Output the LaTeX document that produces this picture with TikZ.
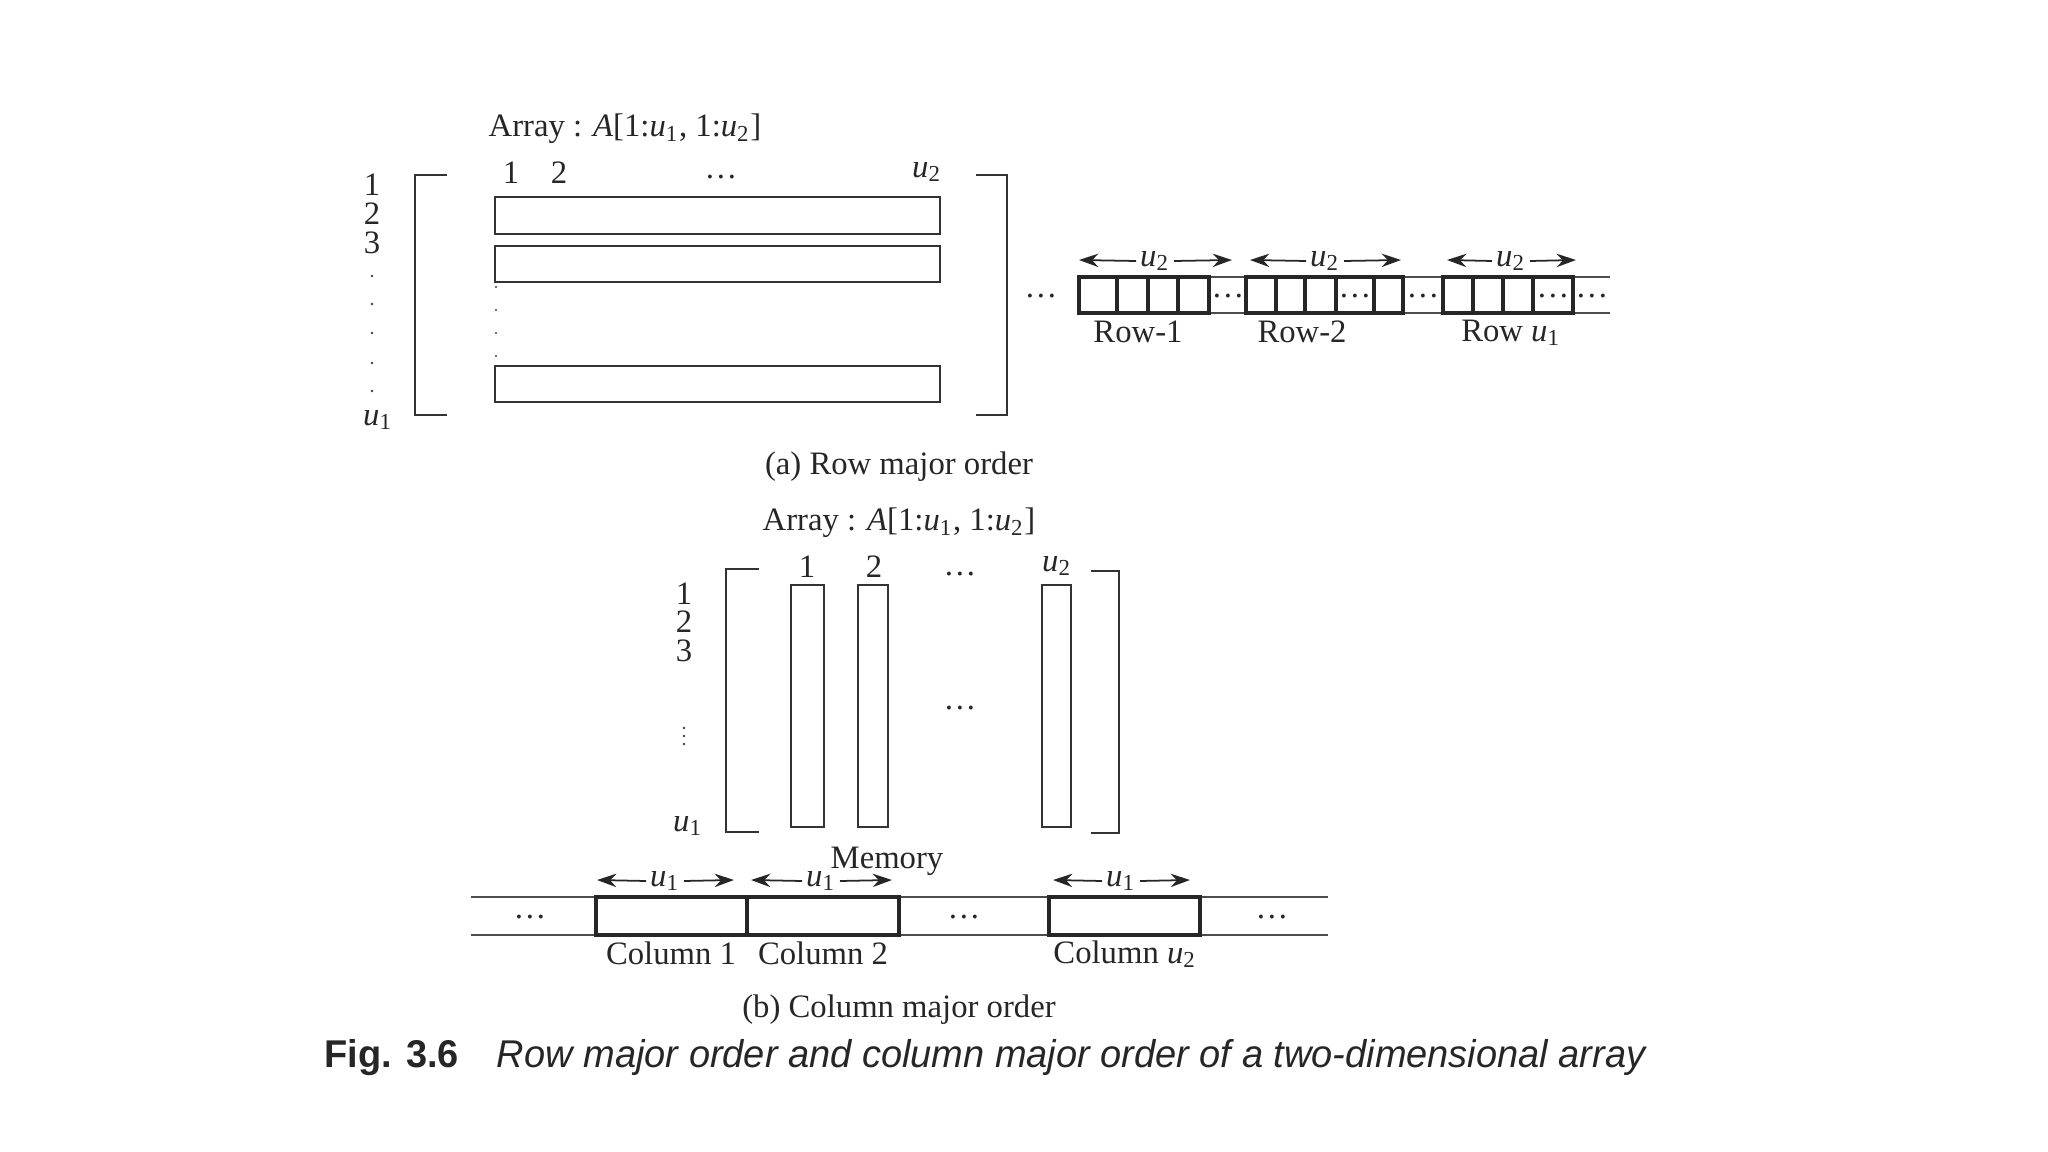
\documentclass[tikz,border=0pt]{standalone}
\usepackage{fontspec}
\setmainfont{Liberation Serif}
\newfontfamily\capfont{Liberation Sans}
\usetikzlibrary{arrows.meta,fit}
\newcommand\ujx[1]{\textit{u}\textsubscript{#1}}
\begin{document}
\begin{tikzpicture}[x=0.01cm,y=-0.01cm,
  every node/.style={text=black!85},
  txt/.style={inner sep=0pt, font=\fontsize{9.3}{11}\selectfont},
  dotsn/.style={inner sep=0pt, anchor=base, font=\fontsize{9.3}{11}\selectfont},
  thinbox/.style={draw=black!80, line width=0.6pt, inner sep=0pt},
  cell/.style={draw=black!85, line width=1.1pt, inner sep=0pt},
  brk/.style={draw=black!80, line width=0.6pt},
  mline/.style={draw=black!70, line width=0.5pt},
  dim/.style={draw=black!85, line width=0.5pt, -{Stealth[length=5.5pt,width=3.8pt]}},
  dimlab/.style={inner sep=1pt, font=\fontsize{9.3}{11}\selectfont}
  ]
\useasboundingbox (0,0) rectangle (2048,1152);

% ---------------- (a) Row major order ----------------
\node[txt] (ta) at (625,129) {Array : \textit{A}[1:\ujx{1}, 1:\ujx{2}]};
% brackets
\draw[brk] (447,175) -- (415,175) -- (415,415) -- (447,415);
\draw[brk] (976,175) -- (1007,175) -- (1007,415) -- (976,415);
% row labels
\node[txt] (ra1) at (372,185) {1};
\node[txt] (ra2) at (372,214) {2};
\node[txt] (ra3) at (372,243) {3};
\foreach \yy in {276,304,333,363,391}{\fill[black!75] (372,\yy) circle (1.3);}
\node[txt] (rau) at (378,420) {\ujx{1}};
% column labels
\node[txt] (ca1) at (511,173) {1};
\node[txt] (ca2) at (559,173) {2};
\node[dotsn] (cad) at (721,179) {\dots};
\node[txt] (cau) at (927,172) {\ujx{2}};
% row boxes
\node[thinbox, fit={(495,197) (940,234)}] (rowA) {};
\node[thinbox, fit={(495,246) (940,282)}] (rowB) {};
\node[thinbox, fit={(495,366) (940,402)}] (rowC) {};
\foreach \yy in {287,310,333,356}{\fill[black!75] (496,\yy) circle (1.2);}

% memory strip (a)
\node[dotsn] (ma0) at (1041,298) {\dots};
\coordinate (mla) at (1079,277); \coordinate (mlb) at (1610,277);
\coordinate (mlc) at (1079,313); \coordinate (mld) at (1610,313);
\draw[mline] (mla) -- (mlb);
\draw[mline] (mlc) -- (mld);
\node[cell, fit={(1079,277) (1117,313)}] (a11) {};
\node[cell, fit={(1117,277) (1148,313)}] (a12) {};
\node[cell, fit={(1148,277) (1178,313)}] (a13) {};
\node[cell, fit={(1178,277) (1209,313)}] (a14) {};
\node[dotsn] (ma1) at (1228,298) {\dots};
\node[cell, fit={(1246,277) (1276,313)}] (a21) {};
\node[cell, fit={(1276,277) (1305,313)}] (a22) {};
\node[cell, fit={(1305,277) (1336,313)}] (a23) {};
\node[cell, fit={(1336,277) (1374,313)}] (a24) {};
\node[cell, fit={(1374,277) (1403,313)}] (a25) {};
\node[dotsn] (ma2) at (1355,298) {\dots};
\node[dotsn] (ma3) at (1423,298) {\dots};
\node[cell, fit={(1443,277) (1473,313)}] (a31) {};
\node[cell, fit={(1473,277) (1503,313)}] (a32) {};
\node[cell, fit={(1503,277) (1533,313)}] (a33) {};
\node[cell, fit={(1533,277) (1573,313)}] (a34) {};
\node[dotsn] (ma4) at (1553,298) {\dots};
\node[dotsn] (ma5) at (1592,298) {\dots};
% dimension arrows
\node[dimlab] (da1) at (1155,261) {\ujx{2}};
\coordinate (da1l) at (1079,260); \coordinate (da1r) at (1232,260);
\draw[dim] (da1.west) -- (da1l); \draw[dim] (da1.east) -- (da1r);
\node[dimlab] (da2) at (1325,261) {\ujx{2}};
\coordinate (da2l) at (1250,260); \coordinate (da2r) at (1401,260);
\draw[dim] (da2.west) -- (da2l); \draw[dim] (da2.east) -- (da2r);
\node[dimlab] (da3) at (1511,261) {\ujx{2}};
\coordinate (da3l) at (1447,260); \coordinate (da3r) at (1576,260);
\draw[dim] (da3.west) -- (da3l); \draw[dim] (da3.east) -- (da3r);
% row labels under memory
\node[txt] (lr1) at (1138,332) {Row-1};
\node[txt] (lr2) at (1302,332) {Row-2};
\node[txt] (lr3) at (1511,333) {Row \ujx{1}};

\node[txt] (capa) at (899,467) {(a) Row major order};

% ---------------- (b) Column major order ----------------
\node[txt] (tb) at (899,523) {Array : \textit{A}[1:\ujx{1}, 1:\ujx{2}]};
\draw[brk] (759,569) -- (726,569) -- (726,832) -- (759,832);
\draw[brk] (1091,571) -- (1119,571) -- (1119,833) -- (1091,833);
\node[txt] (rb1) at (684,594) {1};
\node[txt] (rb2) at (684,622) {2};
\node[txt] (rb3) at (684,651) {3};
\foreach \yy in {728,736,744}{\fill[black!75] (684,\yy) circle (1.3);}
\node[txt] (rbu) at (688,826) {\ujx{1}};
\node[txt] (cb1) at (807,567) {1};
\node[txt] (cb2) at (874,567) {2};
\node[dotsn] (cbd) at (960,575) {\dots};
\node[txt] (cbu) at (1057,566) {\ujx{2}};
\node[thinbox, fit={(791,585) (824,827)}] (colA) {};
\node[thinbox, fit={(858,585) (888,827)}] (colB) {};
\node[thinbox, fit={(1042,585) (1071,827)}] (colC) {};
\node[dotsn] (cbm) at (960,709) {\dots};

\node[txt] (mem) at (887,861) {Memory};
% memory strip (b)
\coordinate (mbla) at (471,897); \coordinate (mblb) at (1328,897);
\coordinate (mblc) at (471,935); \coordinate (mbld) at (1328,935);
\draw[mline] (mbla) -- (mblb);
\draw[mline] (mblc) -- (mbld);
\node[cell, fit={(596,897) (747,935)}] (b1) {};
\node[cell, fit={(747,897) (899,935)}] (b2) {};
\node[cell, fit={(1049,897) (1200,935)}] (b3) {};
\node[dotsn] (mb0) at (530,918) {\dots};
\node[dotsn] (mb1) at (964,918) {\dots};
\node[dotsn] (mb2) at (1272,918) {\dots};
% dimension arrows
\node[dimlab] (db1) at (665,881) {\ujx{1}};
\coordinate (db1l) at (597,880); \coordinate (db1r) at (734,880);
\draw[dim] (db1.west) -- (db1l); \draw[dim] (db1.east) -- (db1r);
\node[dimlab] (db2) at (821,881) {\ujx{1}};
\coordinate (db2l) at (751,880); \coordinate (db2r) at (892,880);
\draw[dim] (db2.west) -- (db2l); \draw[dim] (db2.east) -- (db2r);
\node[dimlab] (db3) at (1121,881) {\ujx{1}};
\coordinate (db3l) at (1053,880); \coordinate (db3r) at (1190,880);
\draw[dim] (db3.west) -- (db3l); \draw[dim] (db3.east) -- (db3r);
\node[txt] (lc1) at (671,953) {Column 1};
\node[txt] (lc2) at (823,953) {Column 2};
\node[txt] (lc3) at (1125,954) {Column \ujx{2}};

\node[txt] (capb) at (899,1010) {(b) Column major order};

% figure caption
\node[inner sep=0pt] (fig) at (986,1058) {\resizebox{13.22cm}{\height}{\capfont\fontsize{11}{13}\selectfont\textbf{Fig. 3.6}\quad\textit{Row major order and column major order of a two-dimensional array}}};
\end{tikzpicture}
\end{document}
